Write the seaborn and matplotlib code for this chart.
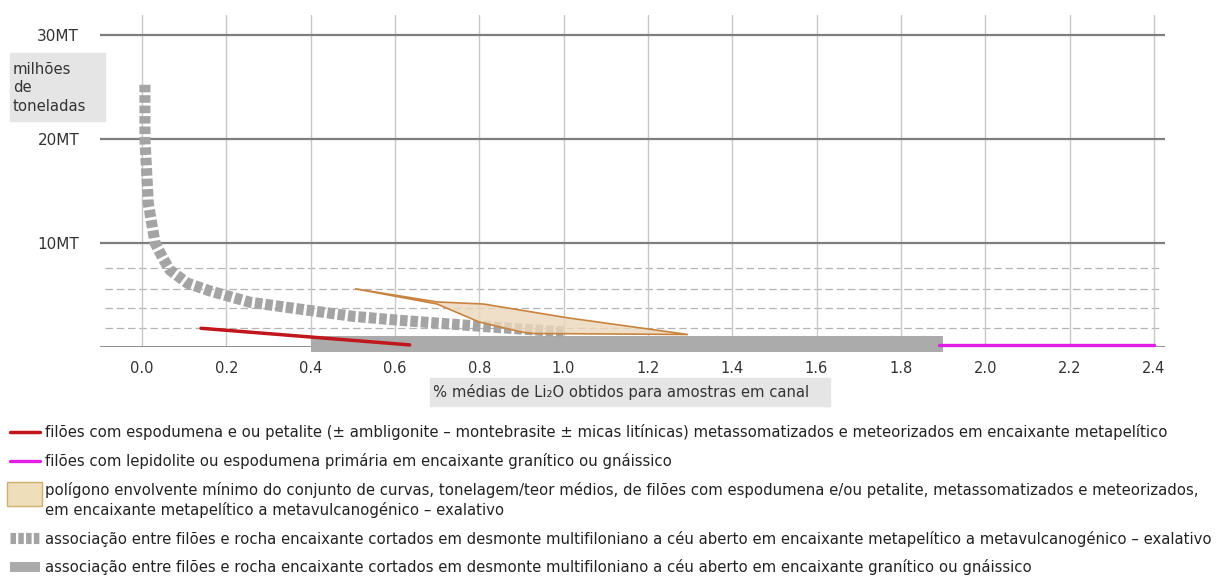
import matplotlib
matplotlib.use("Agg")
import matplotlib.pyplot as plt
import seaborn as sns
from matplotlib.lines import Line2D
from matplotlib.patches import Patch, Rectangle
from matplotlib.legend_handler import HandlerPatch

# --- data ---
x_ticks = [0.0, 0.2, 0.4, 0.6, 0.8, 1.0, 1.2, 1.4, 1.6, 1.8, 2.0, 2.2, 2.4]
x_tick_labels = ["0.0", "0.2", "0.4", "0.6", "0.8", "1.0", "1.2", "1.4",
                 "1.6", "1.8", "2.0", "2.2", "2.4"]
y_ticks = [10, 20, 30]
y_tick_labels = ["10MT", "20MT", "30MT"]
dashed_levels = [1.8, 3.75, 5.6, 7.6]

# multi-vein open pit, metapelitic host (dashed grey curve)
curve_x = [0.007, 0.007, 0.015, 0.031, 0.05, 0.066, 0.107, 0.16, 0.256, 0.4, 0.5, 0.6, 0.8, 1.0]
curve_y = [25.2, 20.0, 13.8, 10.0, 8.5, 7.4, 6.15, 5.4, 4.3, 3.5, 2.95, 2.6, 2.0, 1.45]

# spodumene / petalite veins (red)
red_x = [0.14, 0.635]
red_y = [1.8, 0.2]

# lepidolite / primary spodumene veins (magenta)
magenta_x = [1.89, 2.4]
magenta_y = [0.18, 0.18]

# multi-vein open pit, granitic host (grey band)
band_x = [0.4, 1.9]
band_low = -0.45
band_high = 1.05

# minimum envelope polygon
poly_x = [0.505, 0.70, 0.81, 1.01, 1.295, 0.927, 0.90, 0.80, 0.70, 0.505]
poly_y = [5.6, 4.33, 4.13, 2.8, 1.2, 1.3, 1.44, 2.4, 4.13, 5.6]

legend_labels = [
    "filões com espodumena e ou petalite (± ambligonite – montebrasite ± micas litínicas) metassomatizados e meteorizados em encaixante metapelítico",
    "filões com lepidolite ou espodumena primária em encaixante granítico ou gnáissico",
    "polígono envolvente mínimo do conjunto de curvas, tonelagem/teor médios, de filões com espodumena e/ou petalite, metassomatizados e meteorizados,\nem encaixante metapelítico a metavulcanogénico – exalativo",
    "associação entre filões e rocha encaixante cortados em desmonte multifiloniano a céu aberto em encaixante metapelítico a metavulcanogénico – exalativo",
    "associação entre filões e rocha encaixante cortados em desmonte multifiloniano a céu aberto em encaixante granítico ou gnáissico",
]

RED = "#c0161c"
MAGENTA = "#e01ee6"
SQUARES = "#a4a4a4"
BAND = "#ababab"
POLY_FACE = "#ecd8bb"
POLY_EDGE = "#c8843e"

sns.set_theme(style="white")
plt.rcParams["font.family"] = ["DejaVu Sans"]

W, H = 1231, 580
fig = plt.figure(figsize=(W / 100, H / 100), dpi=100)
ax = fig.add_axes([100 / W, 1 - 347 / H, 1065 / W, 332 / H])

# grid and reference lines
ax.set_xticks(x_ticks)
ax.set_xticklabels(x_tick_labels)
ax.set_yticks(y_ticks)
ax.set_yticklabels(y_tick_labels)
ax.grid(axis="x", color="#c8c8c8", lw=1.0)
ax.grid(axis="y", color="#7e7e7e", lw=1.6)
ax.set_axisbelow(True)
for lvl in dashed_levels:
    ax.axhline(lvl, xmin=0.005, xmax=0.995, color="#b4b4b4", lw=0.9,
               ls=(0, (6, 3)), zorder=0.5)
ax.axhline(0, color="#6e6e6e", lw=1.8, zorder=1)

# grey band (granitic host)
ax.fill_between(band_x, band_low, band_high, color=BAND, lw=0, zorder=2, clip_on=False)

# dashed square curve
sns.lineplot(x=curve_x, y=curve_y, sort=False, estimator=None, ax=ax,
             color=SQUARES, lw=8, linestyle=(0, (0.68, 0.26)), zorder=3)

# envelope polygon
ax.fill(poly_x, poly_y, facecolor=POLY_FACE, alpha=0.8, edgecolor="none", zorder=4)
ax.fill(poly_x, poly_y, facecolor="none", edgecolor=POLY_EDGE, lw=1.2, zorder=4.5)

sns.lineplot(x=red_x, y=red_y, ax=ax, color=RED, lw=2.5, zorder=5)
sns.lineplot(x=magenta_x, y=magenta_y, ax=ax, color=MAGENTA, lw=2.4, zorder=5)
for ln in ax.lines[-2:]:
    ln.set_clip_on(False)

ax.set_xlim(-0.0996, 2.4265)
ax.set_ylim(0, 31.9)
sns.despine(ax=ax, left=True, bottom=True)
ax.tick_params(axis="both", length=0, colors="#333333")
ax.tick_params(axis="x", pad=10, labelsize=10.5)
ax.tick_params(axis="y", pad=15, labelsize=11)
ax.set_xlabel("")
ax.set_ylabel("")

# axis title boxes
fig.patches.append(Rectangle((10 / W, 1 - 121 / H), 95 / W, 68 / H,
                             transform=fig.transFigure, color="#e5e5e5", zorder=0))
fig.text(13 / W, 1 - 88 / H, "milhões\nde\ntoneladas", fontsize=10.7,
         color="#333333", va="center", ha="left", linespacing=1.33)
fig.patches.append(Rectangle((430 / W, 1 - 406 / H), 400 / W, 28 / H,
                             transform=fig.transFigure, color="#e5e5e5", zorder=0))
fig.text(433 / W, 1 - 392 / H, "% médias de Li₂O obtidos para amostras em canal",
         fontsize=10.6, color="#333333", va="center", ha="left")


# legend
def tall_box(legend, orig_handle, xdescent, ydescent, width, height, fontsize):
    return Rectangle((-xdescent - 2, -ydescent - 0.02 * height), width + 4, 2.3 * height)


tan_patch = Patch(facecolor="#eedfba", edgecolor="#cfae70", lw=1)
handles = [
    Line2D([], [], color=RED, lw=2.5),
    Line2D([], [], color=MAGENTA, lw=2.4),
    tan_patch,
    Line2D([], [], color=SQUARES, lw=8, linestyle=(0, (0.5, 0.2))),
    Patch(facecolor=BAND, edgecolor="none"),
]
leg = fig.legend(handles, legend_labels, loc="upper left",
                 bbox_to_anchor=(10 / W, 1 - 424 / H), frameon=False,
                 fontsize=10.7, handlelength=2.0, handletextpad=0.36,
                 labelspacing=0.86, borderaxespad=0, borderpad=0,
                 handler_map={tan_patch: HandlerPatch(patch_func=tall_box)})
for t in leg.get_texts():
    t.set_color("#222222")
leg.get_texts()[2].set_linespacing(1.33)

fig.savefig("out.png", dpi=100)
